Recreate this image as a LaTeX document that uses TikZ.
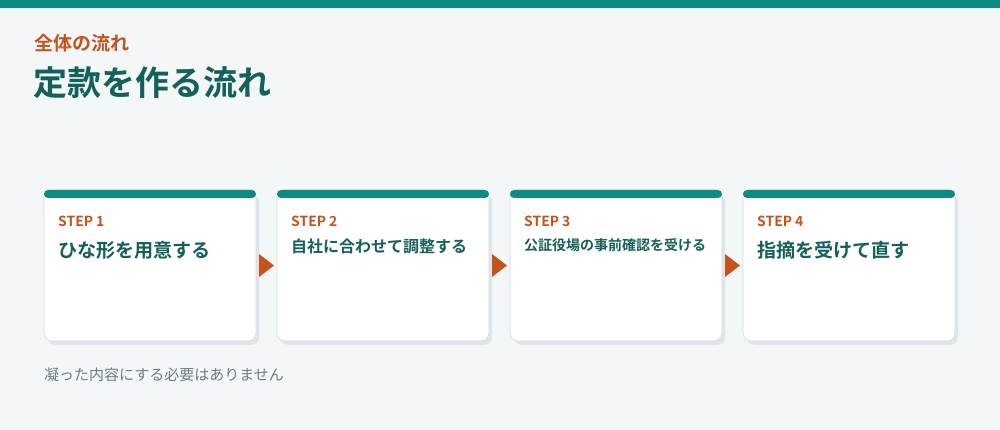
\documentclass[tikz,border=0pt]{standalone}
\usepackage{fontspec}
\setmainfont{Noto Sans CJK JP}
\newfontfamily\jpb{Noto Sans CJK JP Bold}
\definecolor{bg}{HTML}{F3F7F7}
\definecolor{teal}{HTML}{0E8A84}
\definecolor{dteal}{HTML}{14605A}
\definecolor{orng}{HTML}{C4541C}
\definecolor{shad}{HTML}{DFE5EB}
\definecolor{bord}{HTML}{D3DCE2}
\definecolor{gtxt}{HTML}{6E7C86}
\tikzset{
  card/.style={fill=white, draw=bord, line width=0.6pt, rounded corners=8pt},
  cardshadow/.style={fill=shad, rounded corners=8pt},
  topbar/.style={fill=teal, rounded corners=4pt},
  steplbl/.style={anchor=west, inner sep=0pt, text=orng, font=\jpb\fontsize{13.9}{15}\selectfont},
  steptitle/.style={anchor=west, inner sep=0pt, text=dteal},
  flowarrow/.style={fill=orng},
}
\begin{document}
\begin{tikzpicture}[x=1pt,y=-1pt]
\useasboundingbox (0,0) rectangle (1000,430);
\fill[bg] (0,0) rectangle (1000,430);
\fill[teal] (0,0) rectangle (1000,8);
\node[anchor=west, inner sep=0pt, text=orng, font=\jpb\fontsize{19}{21}\selectfont] (sub) at (34,43) {全体の流れ};
\node[anchor=west, inner sep=0pt, text=dteal, font=\jpb\fontsize{34}{37}\selectfont] (title) at (33,83) {定款を作る流れ};
\foreach \i/\x/\t/\s/\y in {1/44/ひな形を用意する/19.1/250, 2/277/自社に合わせて調整する/16/246.5, 3/510/公証役場の事前確認を受ける/14/245.5, 4/743/指摘を受けて直す/19.1/250}{
  \fill[cardshadow] (\x+4,194) rectangle (\x+215,345);
  \draw[card] (\x,190) rectangle (\x+212,341);
  \fill[topbar] (\x,190) rectangle (\x+212,198);
  \node[steplbl] (s\i) at (\x+14,221) {STEP \i};
  \node[steptitle, font=\jpb\fontsize{\s}{20}\selectfont] (t\i) at (\x+14,\y) {\t};
}
\foreach \x [count=\j] in {259,492,725}{
  \fill[flowarrow] (\x,254) -- (\x+15,265.5) -- (\x,277) -- cycle;
}
\node[anchor=west, inner sep=0pt, text=gtxt, font=\fontsize{15}{17}\selectfont] (foot) at (44,375) {凝った内容にする必要はありません};
\end{tikzpicture}
\end{document}
